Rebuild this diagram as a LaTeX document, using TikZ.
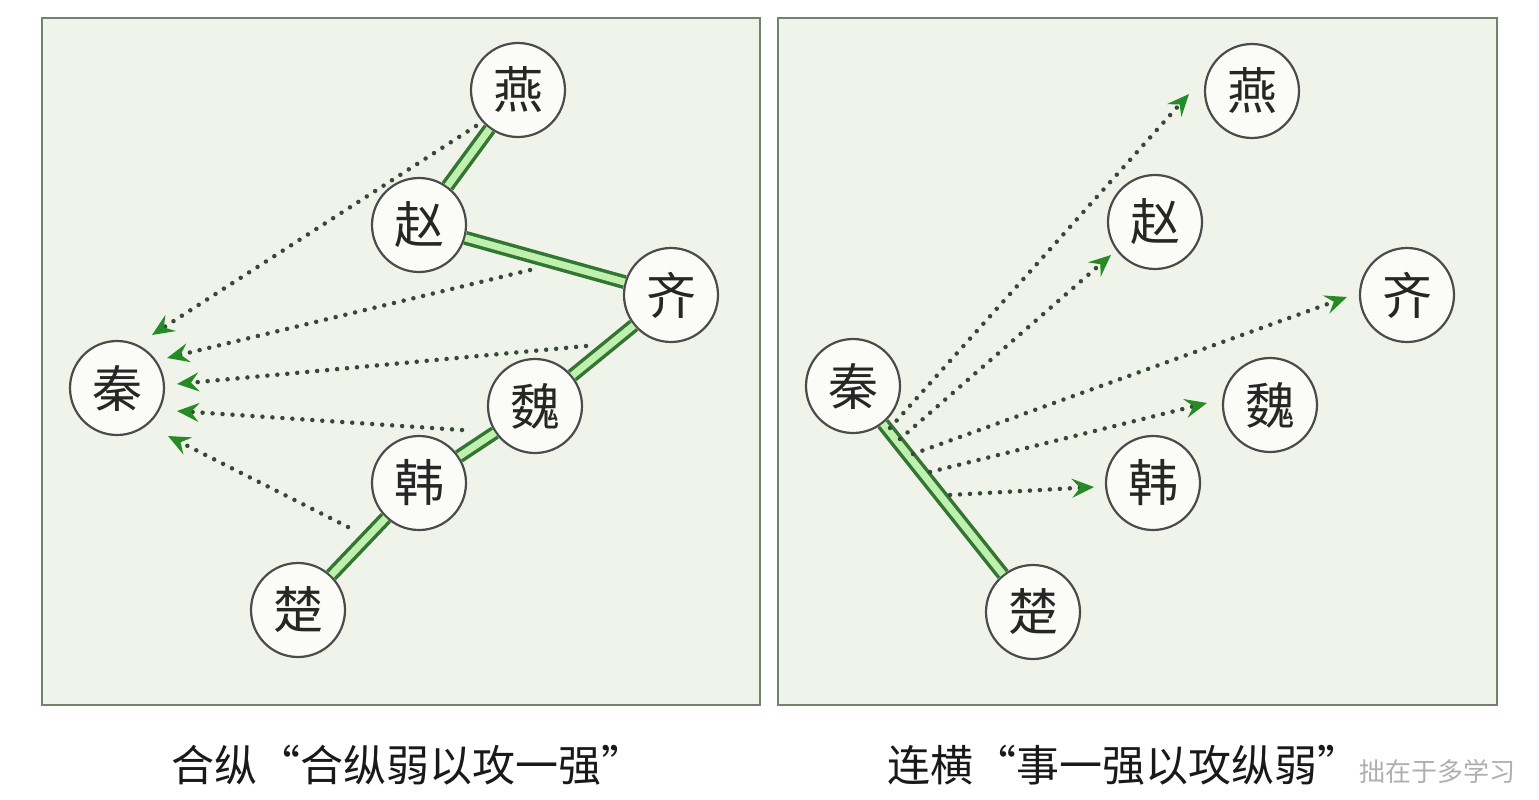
\documentclass[tikz,border=0pt]{standalone}
\usepackage{fontspec}
\newfontfamily\cjk{Noto Sans CJK SC}
\usetikzlibrary{arrows.meta,calc}
\definecolor{panelbg}{RGB}{240,243,234}
\definecolor{panelframe}{RGB}{115,130,110}
\definecolor{ringc}{RGB}{75,75,75}
\definecolor{nodebg}{RGB}{251,252,248}
\definecolor{dkgreen}{RGB}{50,118,50}
\definecolor{ltgreen}{RGB}{192,240,176}
\definecolor{dotc}{RGB}{55,72,55}
\definecolor{tipc}{RGB}{38,138,38}
\definecolor{wmark}{RGB}{175,175,175}
\begin{document}
\begin{tikzpicture}[x=1pt,y=-1pt,
  panel/.style={fill=panelbg, draw=panelframe, line width=2pt},
  state/.style={circle, draw=ringc, line width=2.2pt, fill=nodebg, minimum size=94pt, inner sep=0pt,
    font=\cjk\fontsize{50}{50}\selectfont, text=black!85},
  ally/.style={draw=dkgreen, line width=3.5pt, double=ltgreen, double distance=7pt},
  dotarrow/.style={draw=dotc, line width=4.5pt, line cap=round, dash pattern=on 0pt off 10pt,
    -{Stealth[length=22pt,width=19pt,inset=8pt,color=tipc]}},
  caption/.style={font=\cjk\fontsize{43}{43}\selectfont, text=black!90, inner sep=0pt}
]
\useasboundingbox (0,0) rectangle (1539,800);
% panels
\path[panel] (42,18) rectangle (760,705);
\path[panel] (778,18) rectangle (1497,705);

% ---------- left panel ----------
\node[state] (yanL)  at (518,90)  {燕};
\node[state] (zhaoL) at (419,225) {赵};
\node[state] (qiL)   at (671,295) {齐};
\node[state] (qinL)  at (117,388) {秦};
\node[state] (weiL)  at (535,406) {魏};
\node[state] (hanL)  at (419,483) {韩};
\node[state] (chuL)  at (298,610) {楚};

\draw[ally] (yanL) -- (zhaoL);
\draw[ally] (zhaoL) -- (qiL);
\draw[ally] (qiL) -- (weiL);
\draw[ally] (weiL) -- (hanL);
\draw[ally] (hanL) -- (chuL);

\coordinate (s1) at (476,126);
\coordinate (s2) at (530,270);
\coordinate (s3) at (586,346);
\coordinate (s4) at (462,430);
\coordinate (s5) at (348,527);
\coordinate (t1) at (152,335);
\coordinate (t2) at (167,358);
\coordinate (t3) at (177,384);
\coordinate (t4) at (177,411);
\coordinate (t5) at (168,436);
\draw[dotarrow] (s1) -- (t1);
\draw[dotarrow] (s2) -- (t2);
\draw[dotarrow] (s3) -- (t3);
\draw[dotarrow] (s4) -- (t4);
\draw[dotarrow] (s5) -- (t5);

% ---------- right panel ----------
\node[state] (yanR)  at (1252,91)  {燕};
\node[state] (zhaoR) at (1155,222) {赵};
\node[state] (qiR)   at (1407,295) {齐};
\node[state] (qinR)  at (853,386)  {秦};
\node[state] (weiR)  at (1270,405) {魏};
\node[state] (hanR)  at (1153,483) {韩};
\node[state] (chuR)  at (1033,612) {楚};

\draw[ally] (qinR) -- (chuR);

\coordinate (r1) at (890,428);
\coordinate (r2) at (900,439);
\coordinate (r3) at (913,454);
\coordinate (r4) at (930,472);
\coordinate (r5) at (950,495);
\coordinate (u1) at (1189,94);
\coordinate (u2) at (1111,255);
\coordinate (u3) at (1347,297);
\coordinate (u4) at (1207,403);
\coordinate (u5) at (1094,487);
\draw[dotarrow] (r1) -- (u1);
\draw[dotarrow] (r2) -- (u2);
\draw[dotarrow] (r3) -- (u3);
\draw[dotarrow] (r4) -- (u4);
\draw[dotarrow] (r5) -- (u5);

% ---------- captions ----------
\node[caption] (capL) at (408,765) {合纵“合纵弱以攻一强”};
\node[caption] (capR) at (1124,765) {连横“事一强以攻纵弱”};
\node[font=\cjk\fontsize{26}{26}\selectfont, text=wmark, inner sep=0pt, anchor=east] (wm) at (1516,772) {拙在于多学习};
\end{tikzpicture}
\end{document}
